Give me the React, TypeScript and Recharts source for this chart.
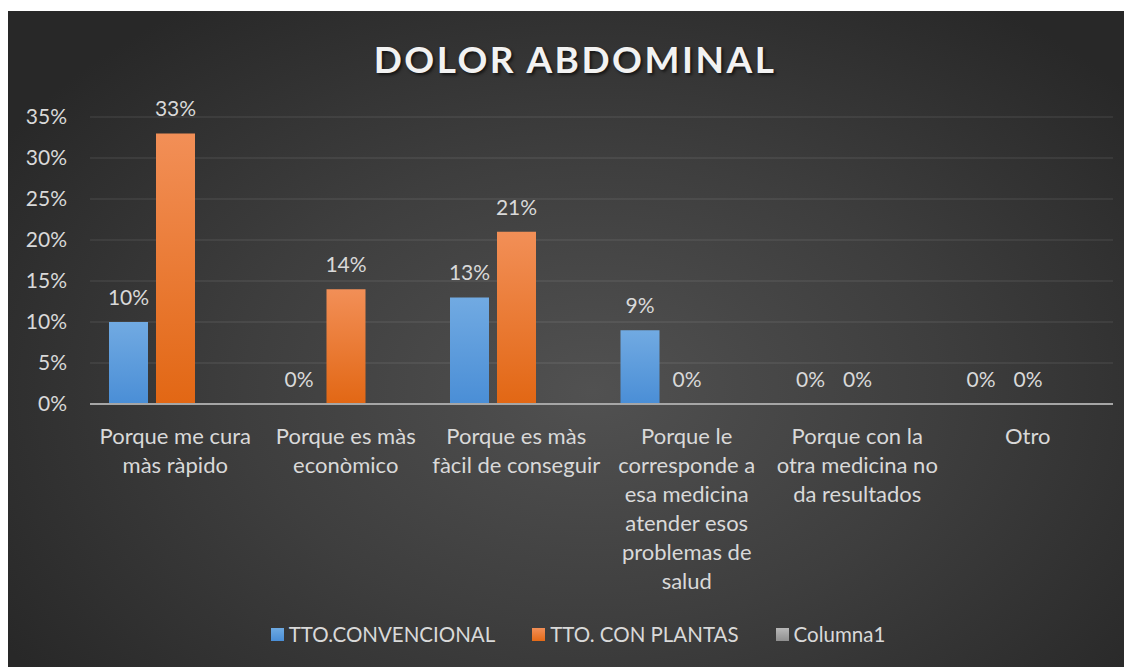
import { BarChart, Bar, XAxis, YAxis, CartesianGrid, Legend, LabelList } from "recharts";

const categories = [
    "Porque me cura màs ràpido",
    "Porque es màs econòmico",
    "Porque es màs fàcil de conseguir",
    "Porque le corresponde a esa medicina atender esos problemas de salud",
    "Porque con la otra medicina no da resultados",
    "Otro",
];
const convencional = [10, 0, 13, 9, 0, 0];
const plantas = [33, 14, 21, 0, 0, 0];
const columna1: (number | null)[] = [null, null, null, null, null, null];
const yTicks = [0, 5, 10, 15, 20, 25, 30, 35];

const data = categories.map((name, i) => ({
    name,
    conv: convencional[i],
    plantas: plantas[i],
    col1: columna1[i],
}));

const FONT = "Lato, 'Open Sans', sans-serif";
const TXT = "#d9d9d9";
const CAT_SIZE = 22;

const legendItems = [
    { label: "TTO.CONVENCIONAL", css: "linear-gradient(#6eaae2, #4a8ed6)" },
    { label: "TTO. CON PLANTAS", css: "linear-gradient(#f28f57, #e56a17)" },
    { label: "Columna1", css: "linear-gradient(#b8b8b8, #8f8f8f)" },
];

// word wrap measured with canvas so lines fit inside a category band
let ctx: CanvasRenderingContext2D | null = null;
const measure = (s: string) => {
    if (!ctx) {
        ctx = document.createElement("canvas").getContext("2d");
        if (ctx) ctx.font = `${CAT_SIZE}px Lato`;
    }
    return ctx ? ctx.measureText(s).width : s.length * CAT_SIZE * 0.5;
};
const wrap = (text: string, maxW: number) => {
    const lines: string[] = [];
    let cur = "";
    text.split(" ").forEach((w) => {
        const next = cur ? cur + " " + w : w;
        if (cur && measure(next) > maxW) {
            lines.push(cur);
            cur = w;
        } else cur = next;
    });
    if (cur) lines.push(cur);
    return lines;
};

const CategoryTick = (props: any) => {
    const { x, y, payload } = props;
    const lines = wrap(String(payload.value), 168);
    return (
        <text x={x} y={y} textAnchor="middle" fill={TXT} style={{ fontFamily: FONT, fontSize: CAT_SIZE }}>
            {lines.map((l, i) => (
                <tspan key={i} x={x} dy={i === 0 ? 15 : 29}>
                    {l}
                </tspan>
            ))}
        </text>
    );
};

const renderLegend = () => (
    <div style={{ display: "flex", justifyContent: "center", paddingLeft: 72, fontFamily: FONT, fontSize: 20.5, color: TXT }}>
        {legendItems.map((it) => (
            <div key={it.label} style={{ display: "flex", alignItems: "center", marginRight: 37 }}>
                <span style={{ width: 13, height: 13, background: it.css, marginRight: 5, display: "inline-block" }} />
                <span>{it.label}</span>
            </div>
        ))}
    </div>
);

const pct = (v: any) => `${v}%`;

const App = () => {
    return (
        <div
            style={{
                position: "relative",
                marginTop: 3,
                width: 1124,
                height: 656,
                background:
                    "radial-gradient(ellipse 62% 72% at 52% 58%, #515151 0%, #3e3e3e 50%, #282828 100%)",
            }}
        >
            <div
                style={{
                    position: "absolute",
                    top: 25,
                    left: 0,
                    width: 1124,
                    textAlign: "center",
                    paddingLeft: 10,
                    boxSizing: "border-box",
                    fontFamily: FONT,
                    fontWeight: 700,
                    fontSize: 37,
                    letterSpacing: 2.5,
                    color: "#f2f2f2",
                    textShadow: "2px 2px 3px rgba(0,0,0,0.6)",
                }}
            >
                DOLOR ABDOMINAL
            </div>
            <BarChart
                width={1124}
                height={656}
                data={data}
                margin={{ top: 106, right: 19, left: 0, bottom: 5 }}
                barSize={39}
                barGap={8}
            >
                <defs>
                    <linearGradient id="gBlue" x1="0" y1="0" x2="0" y2="1">
                        <stop offset="0%" stopColor="#71aae2" />
                        <stop offset="100%" stopColor="#4a8ed6" />
                    </linearGradient>
                    <linearGradient id="gOrange" x1="0" y1="0" x2="0" y2="1">
                        <stop offset="0%" stopColor="#f28f57" />
                        <stop offset="100%" stopColor="#e26714" />
                    </linearGradient>
                </defs>
                <CartesianGrid vertical={false} stroke="rgba(255,255,255,0.13)" />
                <XAxis
                    dataKey="name"
                    height={218}
                    interval={0}
                    tickLine={false}
                    tickMargin={19}
                    axisLine={{ stroke: "#a6a6a6", strokeWidth: 2 }}
                    tick={<CategoryTick />}
                />
                <YAxis
                    width={82}
                    domain={[0, 35]}
                    ticks={yTicks}
                    axisLine={false}
                    tickLine={false}
                    tickMargin={17}
                    tickFormatter={pct}
                    tick={{ fill: TXT, fontSize: 21, fontFamily: FONT }}
                />
                <Legend verticalAlign="bottom" height={40} content={renderLegend} />
                <Bar dataKey="conv" name="TTO.CONVENCIONAL" fill="url(#gBlue)" minPointSize={0.5} isAnimationActive={false}>
                    <LabelList
                        dataKey="conv"
                        position="top"
                        offset={17}
                        formatter={pct}
                        fill={TXT}
                        style={{ fontSize: 21, fontFamily: FONT }}
                    />
                </Bar>
                <Bar dataKey="plantas" name="TTO. CON PLANTAS" fill="url(#gOrange)" minPointSize={0.5} isAnimationActive={false}>
                    <LabelList
                        dataKey="plantas"
                        position="top"
                        offset={17}
                        formatter={pct}
                        fill={TXT}
                        style={{ fontSize: 21, fontFamily: FONT }}
                    />
                </Bar>
                <Bar dataKey="col1" name="Columna1" fill="#a5a5a5" isAnimationActive={false} />
            </BarChart>
        </div>
    );
};

export default App;
